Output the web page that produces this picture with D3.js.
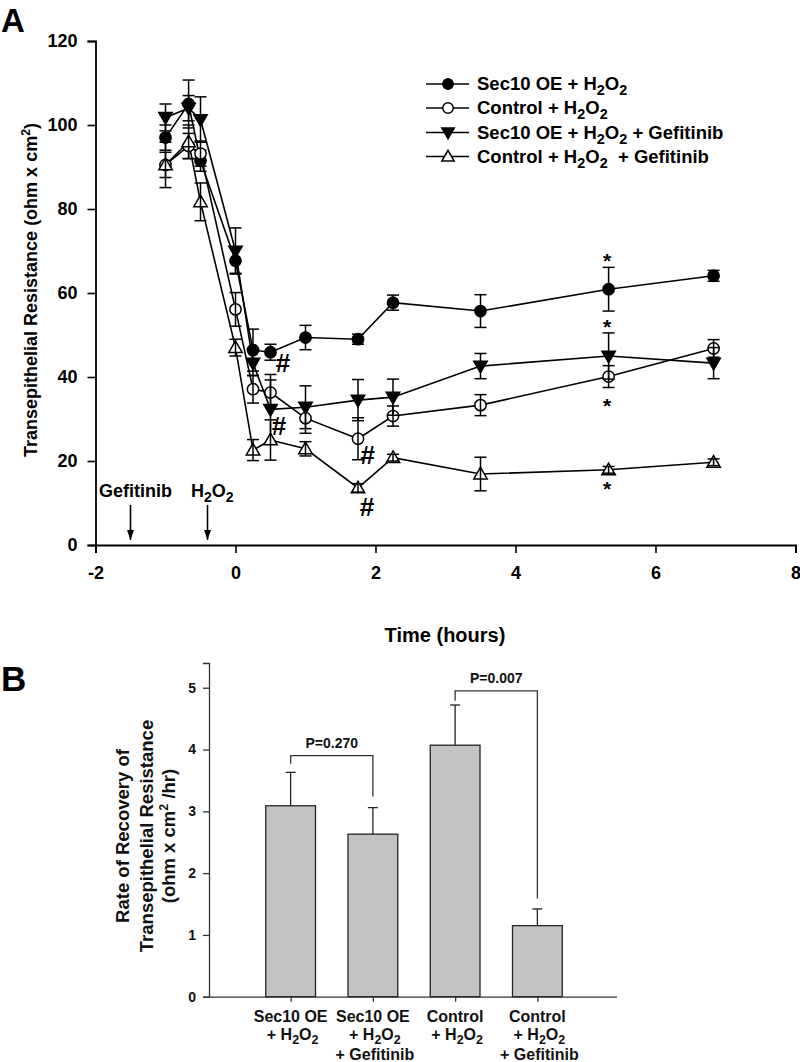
<!DOCTYPE html>
<html>
<head>
<meta charset="utf-8">
<script src="https://cdn.jsdelivr.net/npm/d3@7"></script>
<style>
html,body{margin:0;padding:0;background:#fff;}
svg{display:block;font-family:"Liberation Sans",Arial,Helvetica,sans-serif;}
</style>
</head>
<body>
<svg id="chart" width="800" height="1062"></svg>
<script>
// ---------- Panel A data ----------
const times = [-1, -0.67, -0.5, 0, 0.25, 0.5, 1, 1.75, 2.25, 3.5, 5.33, 6.83];
const sec10Vals   = [97, 105, 91.5, 67.7, 46.4, 45.9, 49.4, 49, 57.7, 55.7, 60.9, 64.1];
const sec10Errs   = [3, 5.7, 2.5, 3, 5, 1.9, 2.9, 1.2, 1.8, 3.9, 5.2, 1.3];
const ctrlVals    = [90.5, 95, 93.2, 56.1, 37.1, 36.3, 30.2, 25.3, 30.7, 33.3, 40.1, 46.8];
const ctrlErrs    = [3, 3, 3, 4, 3.3, 3, 3.6, 5, 2.4, 2.5, 2.6, 2.1];
const sec10GefVals = [101.8, 104, 101.3, 70, 43.3, 32.3, 32.8, 34.5, 35.2, 42.6, 45, 43.3];
const sec10GefErrs = [3.2, 3, 5.4, 5.5, 3, 8.3, 5.1, 4.9, 4.3, 3, 5.5, 3.7];
const ctrlGefVals  = [90.5, 96, 81.7, 47, 22.6, 25, 22.9, 13.6, 20.8, 16.9, 17.9, 19.7];
const ctrlGefErrs  = [5.4, 4, 4.5, 2, 2.5, 4.8, 1.7, 1, 0.8, 4, 0.8, 0.8];
const seriesNames = ["Sec10 OE + H_2O_2", "Control + H_2O_2", "Sec10 OE + H_2O_2 + Gefitinib", "Control + H_2O_2  + Gefitinib"];
const xTicksA = [-2, 0, 2, 4, 6, 8];
const yTicksA = [0, 20, 40, 60, 80, 100, 120];
const treatmentTimes = [-1.5, -0.4];
const treatmentLabels = ["Gefitinib", "H_2O_2"];
const hashMarks = [[0.68, 43.3], [0.62, 28.3], [1.89, 21.4], [1.88, 9.1]];
const starMarks = [[5.31, 68.6], [5.31, 52.8], [5.31, 34.1], [5.31, 14.3]];

// ---------- Panel B data ----------
const barCategories = [["Sec10 OE", "+ H_2O_2"], ["Sec10 OE", "+ H_2O_2", "+ Gefitinib"], ["Control", "+ H_2O_2"], ["Control", "+ H_2O_2", "+ Gefitinib"]];
const barValues = [3.09, 2.63, 4.07, 1.15];
const barErrs = [0.54, 0.43, 0.65, 0.27];
const yTicksB = [0, 1, 2, 3, 4, 5];
const comparisons = [
  {a: 0, b: 1, label: "P=0.270", y: 3.9, endA: 3.77, endB: 3.24},
  {a: 2, b: 3, label: "P=0.007", y: 4.95, endA: 4.79, endB: 1.59}
];

const svg = d3.select("#chart");
const intFmt = d => String(d);

function rich(sel, str, fs) {
  const parts = str.split(/([_^]\d)/).filter(s => s.length);
  let cur = 0;
  parts.forEach(p => {
    let target = 0, txt = p, size = null;
    if (p[0] === "_") { target = 0.27 * fs; txt = p.slice(1); size = fs * 0.78; }
    else if (p[0] === "^") { target = -0.4 * fs; txt = p.slice(1); size = fs * 0.68; }
    const ts = sel.append("tspan").text(txt).attr("dy", target - cur);
    if (size) ts.attr("font-size", size);
    cur = target;
  });
}

// ================= Panel A =================
const xA = d3.scaleLinear().domain([-2, 8]).range([95.5, 795.5]);
const yA = d3.scaleLinear().domain([0, 120]).range([545, 41]);

const gA = svg.append("g");
gA.append("g").attr("transform", `translate(0,${yA(0)})`)
  .call(d3.axisBottom(xA).tickValues(xTicksA).tickSize(8).tickPadding(13).tickFormat(intFmt))
  .call(g => { g.select(".domain").attr("stroke-width", 1.8); g.selectAll(".tick line").attr("stroke-width", 1.6);
    g.selectAll("text").attr("font-size", 18).attr("font-weight", "bold").attr("fill", "#000"); });
gA.append("g").attr("transform", `translate(${xA(-2)},0)`)
  .call(d3.axisLeft(yA).tickValues(yTicksA).tickSize(8).tickPadding(10).tickFormat(intFmt))
  .call(g => { g.select(".domain").attr("stroke-width", 1.8); g.selectAll(".tick line").attr("stroke-width", 1.6);
    g.selectAll("text").attr("font-size", 18).attr("font-weight", "bold").attr("fill", "#000"); });

gA.append("text").attr("x", 445).attr("y", 642).attr("text-anchor", "middle")
  .attr("font-size", 20).attr("font-weight", "bold").text("Time (hours)");
const yTitle = gA.append("text").attr("transform", "translate(37,290) rotate(-90)")
  .attr("text-anchor", "middle").attr("font-size", 18).attr("font-weight", "bold");
rich(yTitle, "Transepithelial Resistance (ohm x cm^2)", 18);

svg.append("text").attr("x", 1).attr("y", 32).attr("font-size", 33).attr("font-weight", "bold").text("A");
svg.append("text").attr("x", 1).attr("y", 691).attr("font-size", 35).attr("font-weight", "bold").text("B");

const series = [
  {name: seriesNames[0], vals: sec10Vals, errs: sec10Errs, sym: d3.symbolCircle, size: 100, fill: "#000", rot: 0},
  {name: seriesNames[1], vals: ctrlVals, errs: ctrlErrs, sym: d3.symbolCircle, size: 100, fill: "#fff", rot: 0},
  {name: seriesNames[2], vals: sec10GefVals, errs: sec10GefErrs, sym: d3.symbolTriangle, size: 78, fill: "#000", rot: 180},
  {name: seriesNames[3], vals: ctrlGefVals, errs: ctrlGefErrs, sym: d3.symbolTriangle, size: 78, fill: "#fff", rot: 0}
];

const line = d3.line().x(d => xA(d.t)).y(d => yA(d.v));
series.forEach(s => {
  const pts = times.map((t, i) => ({t, v: s.vals[i], e: s.errs[i]}));
  gA.append("path").datum(pts).attr("d", line).attr("fill", "none").attr("stroke", "#000").attr("stroke-width", 1.6);
});
series.forEach(s => {
  const pts = times.map((t, i) => ({t, v: s.vals[i], e: s.errs[i]}));
  const sg = gA.append("g");
  sg.selectAll("path.m").data(pts).join("path").attr("class", "m")
    .attr("d", d3.symbol().type(s.sym).size(s.size))
    .attr("transform", d => `translate(${xA(d.t)},${yA(d.v) + (s.sym === d3.symbolTriangle ? (s.rot ? -1 : 1) : 0)}) rotate(${s.rot})`)
    .attr("fill", s.fill).attr("stroke", "#000").attr("stroke-width", 1.5);
  const eb = sg.selectAll("g.e").data(pts).join("g").attr("class", "e").attr("stroke", "#000").attr("stroke-width", 1.5);
  eb.append("line").attr("x1", d => xA(d.t)).attr("x2", d => xA(d.t)).attr("y1", d => yA(d.v + d.e)).attr("y2", d => yA(d.v - d.e));
  eb.append("line").attr("x1", d => xA(d.t) - 6).attr("x2", d => xA(d.t) + 6).attr("y1", d => yA(d.v + d.e)).attr("y2", d => yA(d.v + d.e));
  eb.append("line").attr("x1", d => xA(d.t) - 6).attr("x2", d => xA(d.t) + 6).attr("y1", d => yA(d.v - d.e)).attr("y2", d => yA(d.v - d.e));
});

// annotations
gA.selectAll("text.hash").data(hashMarks).join("text").attr("class", "hash")
  .attr("x", d => xA(d[0])).attr("y", d => yA(d[1]) + 9).attr("text-anchor", "middle")
  .attr("font-size", 26).attr("font-weight", "bold").text("#");
gA.selectAll("text.star").data(starMarks).join("text").attr("class", "star")
  .attr("x", d => xA(d[0])).attr("y", d => yA(d[1]) + 11).attr("text-anchor", "middle")
  .attr("font-size", 21).attr("font-weight", "bold").text("*");

// treatment arrows
svg.append("defs").append("marker").attr("id", "ah").attr("viewBox", "0 0 10 10")
  .attr("refX", 10).attr("refY", 5).attr("markerWidth", 10).attr("markerHeight", 10)
  .attr("markerUnits", "userSpaceOnUse").attr("orient", "auto")
  .append("path").attr("d", "M0,1.5 L10,5 L0,8.5 Z").attr("fill", "#000");
treatmentTimes.forEach((t, i) => {
  gA.append("line").attr("x1", xA(t)).attr("x2", xA(t)).attr("y1", 505).attr("y2", 540)
    .attr("stroke", "#000").attr("stroke-width", 1.6).attr("marker-end", "url(#ah)");
});
const tl1 = gA.append("text").attr("x", 99).attr("y", 497).attr("font-size", 18).attr("font-weight", "bold");
rich(tl1, treatmentLabels[0], 18);
const tl2 = gA.append("text").attr("x", 191).attr("y", 497).attr("font-size", 18).attr("font-weight", "bold");
rich(tl2, treatmentLabels[1], 18);

// legend
const legY = [84, 108, 132.5, 156.5];
series.forEach((s, i) => {
  const lg = gA.append("g").attr("transform", `translate(0,${legY[i]})`);
  lg.append("line").attr("x1", 426).attr("x2", 469).attr("y1", 0).attr("y2", 0).attr("stroke", "#000").attr("stroke-width", 1.6);
  lg.append("path").attr("d", d3.symbol().type(s.sym).size(s.size * 0.85))
    .attr("transform", `translate(448,${s.sym === d3.symbolTriangle ? (s.rot ? -1 : 1) : 0}) rotate(${s.rot})`)
    .attr("fill", s.fill).attr("stroke", "#000").attr("stroke-width", 1.5);
  const t = lg.append("text").attr("x", 477).attr("y", 6).attr("font-size", 18.5).attr("font-weight", "bold").attr("xml:space", "preserve");
  rich(t, s.name, 18.5);
});

// ================= Panel B =================
const xB = d3.scaleBand().domain(d3.range(barCategories.length)).range([209, 619]).paddingInner(0.395).paddingOuter(0.69);
const yB = d3.scaleLinear().domain([0, 5.4]).range([996.7, 663]);
const gB = svg.append("g");
const axisColor = "#333";

gB.selectAll("rect.bar").data(barValues).join("rect").attr("class", "bar")
  .attr("x", (d, i) => xB(i)).attr("width", xB.bandwidth())
  .attr("y", d => yB(d)).attr("height", d => yB(0) - yB(d))
  .attr("fill", "#c3c3c3").attr("stroke", "#222").attr("stroke-width", 1.3);
barValues.forEach((v, i) => {
  const cx = xB(i) + xB.bandwidth() / 2;
  gB.append("line").attr("x1", cx).attr("x2", cx).attr("y1", yB(v)).attr("y2", yB(v + barErrs[i])).attr("stroke", "#222").attr("stroke-width", 1.3);
  gB.append("line").attr("x1", cx - 5).attr("x2", cx + 5).attr("y1", yB(v + barErrs[i])).attr("y2", yB(v + barErrs[i])).attr("stroke", "#222").attr("stroke-width", 1.3);
});

gB.append("g").attr("transform", `translate(209,0)`)
  .call(d3.axisLeft(yB).tickValues(yTicksB).tickSize(6).tickPadding(7).tickFormat(intFmt))
  .call(g => { g.select(".domain").attr("stroke", axisColor).attr("stroke-width", 1.3);
    g.selectAll(".tick line").attr("stroke", axisColor).attr("stroke-width", 1.3);
    g.selectAll("text").attr("font-size", 14).attr("font-weight", "bold").attr("fill", "#111"); });
gB.append("g").attr("transform", `translate(0,${yB(0)})`)
  .call(d3.axisBottom(xB).tickSize(5).tickFormat(""))
  .call(g => { g.select(".domain").attr("stroke", axisColor).attr("stroke-width", 1.3).attr("d", `M209.5,0.5H617`);
    g.selectAll(".tick line").attr("stroke", axisColor).attr("stroke-width", 1.3).attr("transform", "translate(0.5,0)"); });

const catBase = [1022, 1040, 1060];
barCategories.forEach((lines, i) => {
  const cx = xB(i) + xB.bandwidth() / 2;
  lines.forEach((ln, j) => {
    const t = gB.append("text").attr("x", cx + (j === 0 ? 0 : 2)).attr("y", catBase[j])
      .attr("text-anchor", "middle").attr("font-size", 16).attr("font-weight", "bold").attr("fill", "#111");
    rich(t, ln, 16);
  });
});

comparisons.forEach(c => {
  const xa = xB(c.a) + xB.bandwidth() / 2, xb = xB(c.b) + xB.bandwidth() / 2;
  gB.append("path").attr("d", `M${xa},${yB(c.endA)}V${yB(c.y)}H${xb}V${yB(c.endB)}`)
    .attr("fill", "none").attr("stroke", "#333").attr("stroke-width", 1.3);
  gB.append("text").attr("x", (xa + xb) / 2).attr("y", yB(c.y) - 8).attr("text-anchor", "middle")
    .attr("font-size", 14).attr("font-weight", "bold").attr("fill", "#111").text(c.label);
});

const bt = ["Rate of Recovery of", "Transepithelial Resistance", "(ohm x cm^2 /hr)"];
const bx = [129, 152.5, 175];
bt.forEach((s, i) => {
  const t = gB.append("text").attr("transform", `translate(${bx[i]},836) rotate(-90)`)
    .attr("text-anchor", "middle").attr("font-size", 18.5).attr("font-weight", "bold").attr("fill", "#111").attr("xml:space", "preserve");
  rich(t, s, 18.5);
});
</script>
</body>
</html>
